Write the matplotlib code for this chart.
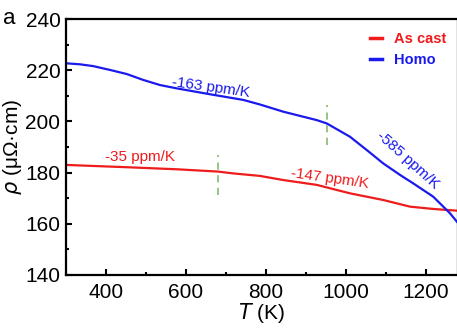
import matplotlib
matplotlib.use("Agg")
import matplotlib.pyplot as plt
from matplotlib.ticker import MultipleLocator

plt.rcParams['font.family'] = ['Liberation Sans', 'DejaVu Sans']

# As cast (red)
T_cast = [300, 452, 577, 680, 717, 785, 843, 927, 1010, 1093, 1160, 1218, 1280]
rho_cast = [183.0, 182.1, 181.3, 180.4, 179.7, 178.7, 177.1, 175.2, 171.9, 169.3, 166.7, 165.8, 165.1]

# Homo (blue)
T_homo = [300, 335, 368, 410, 452, 493, 535, 577, 660, 743, 785, 843, 927, 952,
          1010, 1052, 1093, 1135, 1168, 1218, 1260, 1280]
rho_homo = [222.7, 222.3, 221.6, 220.1, 218.5, 216.2, 214.2, 212.9, 210.6, 208.4, 206.6, 203.8, 200.5, 199.2,
            194.0, 188.8, 183.6, 179.1, 175.8, 170.6, 164.1, 160.3]

dash_T = [680, 952]
dash_lo = [171.2, 190.8]
dash_hi = [186.9, 206.4]

labels = ["As cast", "Homo"]
colors = ["#ee1c1c", "#1a1aee"]

fig = plt.figure(figsize=(4.57, 3.33), dpi=100)
ax = fig.add_axes([66/457, 58/333, 392/457, 256/333])

ax.plot(T_cast, rho_cast, color=colors[0], lw=1.6, label=labels[0])
ax.plot(T_homo, rho_homo, color=colors[1], lw=1.6, label=labels[1])
for t, lo, hi in zip(dash_T, dash_lo, dash_hi):
    ax.plot([t, t], [lo, hi], color="#8fbf7f", lw=1.3, ls=(0, (4, 3)))

ax.set_xlim(300, 1280)
ax.set_ylim(140, 240)
ax.xaxis.set_major_locator(MultipleLocator(200))
ax.xaxis.set_minor_locator(MultipleLocator(100))
ax.yaxis.set_major_locator(MultipleLocator(20))
ax.yaxis.set_minor_locator(MultipleLocator(10))
ax.tick_params(which='both', direction='in', labelsize=15, width=1.5)
ax.tick_params(which='major', length=4)
ax.tick_params(which='minor', length=2.5)
ax.tick_params(axis='x', pad=6)
ax.tick_params(axis='y', pad=4)
for s in ax.spines.values():
    s.set_linewidth(1.6)

ax.set_xlabel(r"$T$ (K)", fontsize=15, labelpad=-1)
ax.set_ylabel(r"$\rho$ (μΩ·cm)", fontsize=15, labelpad=1)

ax.text(485, 186.1, "-35 ppm/K", color=colors[0], fontsize=11, ha='center', va='center')
ax.text(960, 177.6, "-147 ppm/K", color=colors[0], fontsize=11, ha='center', va='center', rotation=-8)
ax.text(662, 213.4, "-163 ppm/K", color=colors[1], fontsize=11, ha='center', va='center', rotation=-8)
ax.text(1155, 184.9, "-585 ppm/K", color=colors[1], fontsize=11, ha='center', va='center', rotation=-42)

leg = ax.legend(loc='upper right', frameon=False, fontsize=10.5, handlelength=0.8,
                labelcolor=colors, bbox_to_anchor=(0.995, 0.99), handletextpad=0.8,
                borderaxespad=0.3)
for t in leg.get_texts():
    t.set_fontweight('bold')
for h in leg.get_lines():
    h.set_linewidth(2.5)

fig.text(3/457, 1 - 19/333, "a", fontsize=16, va='center', ha='left')

fig.savefig("out.png", dpi=100)
